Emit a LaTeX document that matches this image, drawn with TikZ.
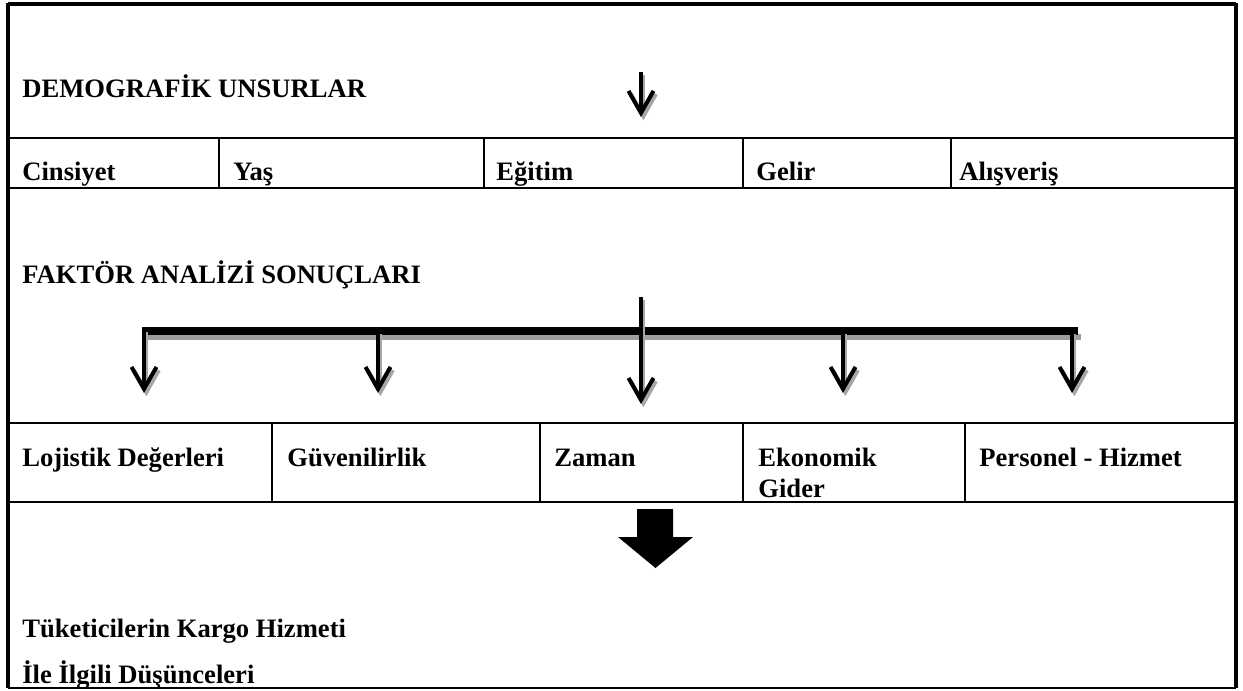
\documentclass[tikz,border=0pt]{standalone}
\usepackage{fontspec}
\setmainfont{Liberation Serif}
\usetikzlibrary{arrows.meta}
\begin{document}
\begin{tikzpicture}[x=0.5pt,y=-0.5pt,
  lbl/.style={anchor=base west, inner sep=0pt, font=\fontsize{13.3}{16}\selectfont\bfseries},
  frameline/.style={line width=1.6pt},
  rowline/.style={line width=1.3pt},
  divline/.style={line width=0.85pt},
  thinarrow/.style={line width=1.9pt, -{Straight Barb[length=11pt,width=12.5pt,line width=2pt]}},
  arrshadow/.style={thinarrow, draw=black!35, transform canvas={xshift=1.2pt,yshift=-1.6pt}},
  blockarrow/.style={fill=black, draw=none},
]
\useasboundingbox (0,0) rectangle (1243,691);
% outer frame
\coordinate (tl) at (8,4);
\coordinate (tr) at (1236,4);
\coordinate (bl) at (8,688);
\coordinate (br) at (1236,688);
\draw[line width=1.6pt] (8,2.5) -- (bl);
\draw[line width=1.8pt] (tl) -- (tr);
\draw[line width=2pt] (1236,2.5) -- (br);
\draw[line width=1.2pt] (bl) -- (br);
% row lines
\foreach \yy in {138,188,423,502}{
  \draw[rowline] (8,\yy) -- (1236,\yy);
}
% row 2 dividers
\foreach \xx in {219,484,743,951}{
  \draw[divline] (\xx,138) -- (\xx,188);
}
% row 4 dividers
\foreach \xx in {272,540,743,965}{
  \draw[divline] (\xx,423) -- (\xx,502);
}
% texts
\node[lbl] (dem) at (22,97) {DEMOGRAFİK UNSURLAR};
\node[lbl] (cins) at (22,180) {Cinsiyet};
\node[lbl] (yas) at (233,180) {Yaş};
\node[lbl] (egit) at (496,180) {Eğitim};
\node[lbl] (gelir) at (756,180) {Gelir};
\node[lbl] (alis) at (959,180) {Alışveriş};
\node[lbl] (fakt) at (22,283) {FAKTÖR ANALİZİ SONUÇLARI};
\node[lbl] (loj) at (22,466) {Lojistik Değerleri};
\node[lbl] (guv) at (287,466) {Güvenilirlik};
\node[lbl] (zam) at (554,466) {Zaman};
\node[lbl] (ekon) at (758,466) {Ekonomik};
\node[lbl] (gider) at (758,497) {Gider};
\node[lbl] (pers) at (979,466) {Personel - Hizmet};
\node[lbl] (tuk) at (22,637) {Tüketicilerin Kargo Hizmeti};
\node[lbl] (ile) at (22,683) {İle İlgili Düşünceleri};
% top arrow
\coordinate (topS) at (641,72);
\coordinate (topE) at (641,117);
\draw[arrshadow] (topS) -- (topE);
\draw[thinarrow] (topS) -- (topE);
% bar
\coordinate (barW) at (142,331);
\coordinate (barE) at (1078,331);
\draw[line width=3pt, black!38, transform canvas={xshift=1.5pt,yshift=-3pt}] (barW) -- (barE);
\draw[line width=4pt] (barW) -- (barE);
% branch arrows
\coordinate (s1) at (144,329); \coordinate (e1) at (144,393);
\coordinate (s2) at (378,331); \coordinate (e2) at (378,393);
\coordinate (s3) at (641,297); \coordinate (e3) at (641,404);
\coordinate (s4) at (843,331); \coordinate (e4) at (843,393);
\coordinate (s5) at (1072,331); \coordinate (e5) at (1072,393);
\foreach \i in {1,...,5}{
  \draw[arrshadow] (s\i) -- (e\i);
}
\foreach \i in {1,...,5}{
  \draw[thinarrow] (s\i) -- (e\i);
}
% block arrow
\fill[blockarrow] (637,509) -- (673,509) -- (673,537) -- (693,537) -- (655.5,568) -- (618,537) -- (637,537) -- cycle;
\end{tikzpicture}
\end{document}
